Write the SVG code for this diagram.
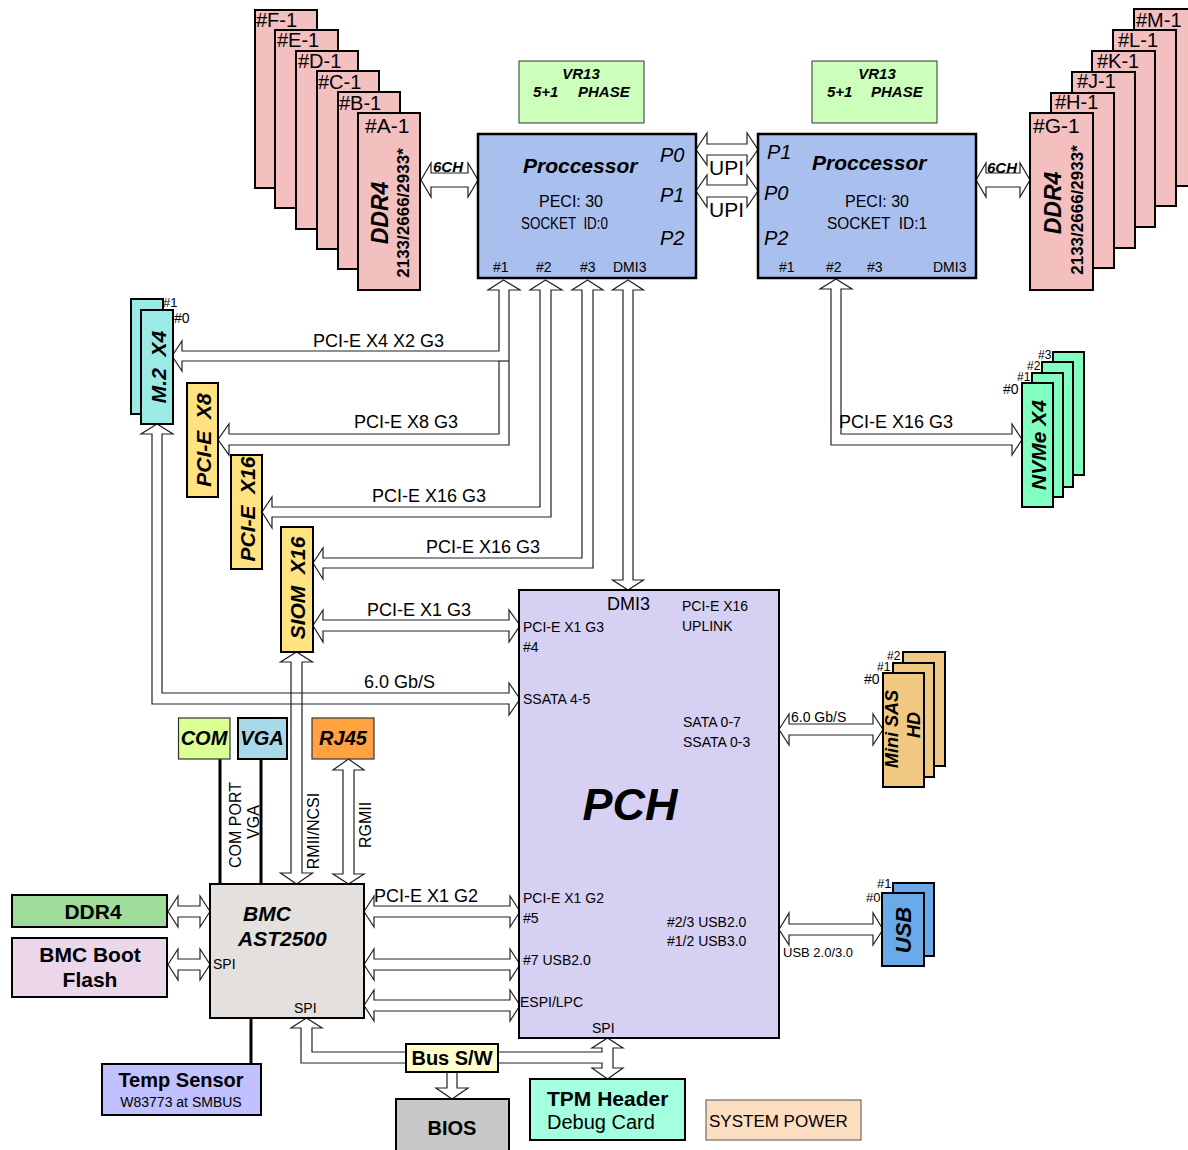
<svg xmlns="http://www.w3.org/2000/svg" width="1188" height="1150" viewBox="0 0 1188 1150">
<style>
text{font-family:"Liberation Sans",Arial,sans-serif;fill:#000}
.box{stroke:#000;stroke-width:2}
.dimm{fill:#F4BFBF;stroke:#000;stroke-width:2}
.cpu{fill:#A9BFEE;stroke:#000;stroke-width:2.5}
.vr{fill:#CCFFBB;stroke:#333;stroke-width:1}
.arr{fill:none;stroke:#222;stroke-width:1.2;stroke-linejoin:miter}
.wire{stroke:#000;stroke-width:3}
.bi{font-weight:bold;font-style:italic}
.b{font-weight:bold}
.i{font-style:italic}
.rot{text-anchor:middle;dominant-baseline:central}
.m{text-anchor:middle}
</style>
<rect width="1188" height="1150" fill="#fff"/>

<g id="connectors">
<polygon class="arr" points="696,149.5 707,133 707,144 747,144 747,133 758,149.5 747,165 747,155 707,155 707,165"/>
<polygon class="arr" points="696,191 707,175 707,185 747,185 747,175 758,191 747,207 747,197 707,197 707,207"/>
<polygon class="arr" points="421,180 431,163 431,173 468,173 468,163 478,180 468,197 468,187 431,187 431,197"/>
<polygon class="arr" points="976,180 986,163 986,173 1020,173 1020,163 1030,180 1020,197 1020,187 986,187 986,197"/>
<polygon class="arr" points="503.5,280 488,290 499,290 499,351 182,351 182,341 172,356 182,371 182,361 499,361 499,434 229,434 229,424 218,439.5 229,455 229,445 509,445 509,290 520,290"/>
<line class="arr" x1="499" y1="361" x2="509" y2="361"/>
<polygon class="arr" points="545.5,280 530,290 540,290 540,507 272,507 272,497 262,512 272,528 272,517 551,517 551,290 562,290"/>
<polygon class="arr" points="587.5,280 572,290 582,290 582,558 323,558 323,548 313,563 323,579 323,568 593,568 593,290 603,290"/>
<polygon class="arr" points="628,280 612.5,290 623,290 623,580 612.5,580 628,590 643.5,580 633,580 633,290 643.5,290"/>
<polygon class="arr" points="836,279 820,289 831,289 831,445 1012,445 1012,455 1022,439.5 1012,424 1012,434 841,434 841,289 852,289"/>
<polygon class="arr" points="313,625.5 323,610 323,620 509,620 509,610 520,625.5 509,642 509,631 323,631 323,642"/>
<polygon class="arr" points="157,424 141,434 152,434 152,704 509,704 509,715 520,699 509,683 509,693 162,693 162,434 173,434"/>
<polygon class="arr" points="296.5,652 280.5,662 291,662 291,873 280.5,873 296.5,884 312.5,873 302,873 302,662 312.5,662"/>
<polygon class="arr" points="348.5,759 333,770 343,770 343,874 333,874 348.5,884 364,874 354,874 354,770 364,770"/>
<line class="wire" x1="220" y1="759" x2="220" y2="884"/>
<line class="wire" x1="261" y1="759" x2="261" y2="884"/>
<polygon class="arr" points="168,911.5 178,896 178,906 200,906 200,896 210,911.5 200,927 200,917 178,917 178,927"/>
<polygon class="arr" points="168,964.5 178,949 178,959 200,959 200,949 210,964.5 200,980 200,970 178,970 178,980"/>
<polygon class="arr" points="364,911.5 374,896 374,906 510,906 510,896 520,911.5 510,927 510,917 374,917 374,927"/>
<polygon class="arr" points="364,964.5 374,949 374,959 510,959 510,949 520,964.5 510,980 510,970 374,970 374,980"/>
<polygon class="arr" points="364,1005.5 374,990 374,1000 510,1000 510,990 520,1005.5 510,1021 510,1011 374,1011 374,1021"/>
<polygon class="arr" points="779,729.5 789,714 789,724 873,724 873,714 883,729.5 873,745 873,735 789,735 789,745"/>
<polygon class="arr" points="779,929.5 789,913 789,924 873,924 873,913 883,929.5 873,945 873,935 789,935 789,945"/>
<polygon class="arr" points="306.5,1018 291,1028 301,1028 301,1063 406,1063 406,1052 312,1052 312,1028 322,1028"/>
<polygon class="arr" points="498,1052 602,1052 602,1048 592,1048 607.5,1038 623,1048 613,1048 613,1068 623,1068 607.5,1079 592,1068 602,1068 602,1063 498,1063"/>
<polygon class="arr" points="447,1072 447,1088 436,1088 452,1099 468,1088 457,1088 457,1072"/>
<line class="wire" x1="251" y1="1018" x2="251" y2="1064"/>
<text x="709" y="175" font-size="21">UPI</text>
<text x="709" y="217" font-size="21">UPI</text>
<text x="433" y="172" font-size="15" class="bi">6CH</text>
<text x="987" y="173" font-size="15" class="bi">6CH</text>
<text x="313" y="347" font-size="18">PCI-E X4 X2 G3</text>
<text x="354" y="428" font-size="18">PCI-E X8 G3</text>
<text x="372" y="502" font-size="18">PCI-E X16 G3</text>
<text x="426" y="553" font-size="18">PCI-E X16 G3</text>
<text x="839" y="428" font-size="18">PCI-E X16 G3</text>
<text x="367" y="616" font-size="18">PCI-E X1 G3</text>
<text x="364" y="688" font-size="18">6.0 Gb/S</text>
<text x="791" y="722" font-size="14">6.0 Gb/S</text>
<text x="783" y="957" font-size="13">USB 2.0/3.0</text>
<text x="374" y="902" font-size="18">PCI-E X1 G2</text>
<text class="rot" font-size="16" transform="rotate(-90 235 825)" x="235" y="825">COM PORT</text>
<text class="rot" font-size="16" transform="rotate(-90 253 822)" x="253" y="822">VGA</text>
<text class="rot" font-size="16" transform="rotate(-90 313 831)" x="313" y="831">RMII/NCSI</text>
<text class="rot" font-size="16" transform="rotate(-90 365 825)" x="365" y="825">RGMII</text>
</g>

<g id="dimm-left">
<rect class="dimm" x="255" y="10" width="62" height="178"/><text x="256" y="27" font-size="20">#F-1</text>
<rect class="dimm" x="275" y="30" width="63" height="178"/><text x="277" y="47" font-size="20">#E-1</text>
<rect class="dimm" x="296" y="51" width="62" height="178"/><text x="298" y="68" font-size="20">#D-1</text>
<rect class="dimm" x="317" y="71" width="62" height="178"/><text x="318" y="89" font-size="20">#C-1</text>
<rect class="dimm" x="338" y="92" width="62" height="177"/><text x="339" y="110" font-size="20">#B-1</text>
<rect class="dimm" x="358" y="113" width="62" height="177"/><text x="365" y="133" font-size="21">#A-1</text>
<text class="rot bi" font-size="23" transform="rotate(-90 380 213)" x="380" y="213">DDR4</text>
<text class="rot b" font-size="17" transform="rotate(-90 403 213)" x="403" y="213">2133/2666/2933*</text>
</g>

<g id="dimm-right">
<rect class="dimm" x="1134" y="9" width="62" height="177"/><text x="1136" y="27" font-size="20">#M-1</text>
<rect class="dimm" x="1113" y="30" width="63" height="176"/><text x="1118" y="47" font-size="20">#L-1</text>
<rect class="dimm" x="1092" y="51" width="63" height="176"/><text x="1097" y="68" font-size="20">#K-1</text>
<rect class="dimm" x="1072" y="72" width="63" height="176"/><text x="1077" y="88" font-size="20">#J-1</text>
<rect class="dimm" x="1051" y="93" width="63" height="175"/><text x="1055" y="109" font-size="20">#H-1</text>
<rect class="dimm" x="1030" y="113" width="63" height="177"/><text x="1033" y="133" font-size="21">#G-1</text>
<text class="rot bi" font-size="23" transform="rotate(-90 1053 203)" x="1053" y="203">DDR4</text>
<text class="rot b" font-size="17" transform="rotate(-90 1077 210)" x="1077" y="210">2133/2666/2933*</text>
</g>

<g id="vr13-left">
<rect class="vr" x="519" y="61" width="125" height="62"/>
<text x="581" y="79" font-size="15" class="bi m">VR13</text>
<text x="533" y="97" font-size="15" class="bi">5+1</text>
<text x="578" y="97" font-size="15" class="bi">PHASE</text>
</g>
<g id="vr13-right">
<rect class="vr" x="812" y="61" width="125" height="62"/>
<text x="877" y="79" font-size="15" class="bi m">VR13</text>
<text x="827" y="97" font-size="15" class="bi">5+1</text>
<text x="871" y="97" font-size="15" class="bi">PHASE</text>
</g>

<g id="cpu0">
<rect class="cpu" x="478" y="134" width="218" height="144"/>
<text x="523" y="173" font-size="21" class="bi">Proccessor</text>
<text x="571" y="207" font-size="16" class="m">PECI: 30</text>
<text x="521" y="229" font-size="16" textLength="87" lengthAdjust="spacingAndGlyphs" xml:space="preserve">SOCKET  ID:0</text>
<text x="660" y="162" font-size="20" class="i">P0</text>
<text x="660" y="202" font-size="20" class="i">P1</text>
<text x="660" y="245" font-size="20" class="i">P2</text>
<text x="493" y="272" font-size="14">#1</text>
<text x="536" y="272" font-size="14">#2</text>
<text x="580" y="272" font-size="14">#3</text>
<text x="613" y="272" font-size="14">DMI3</text>
</g>

<g id="cpu1">
<rect class="cpu" x="758" y="134" width="218" height="144"/>
<text x="812" y="170" font-size="21" class="bi">Proccessor</text>
<text x="877" y="207" font-size="16" class="m">PECI: 30</text>
<text x="827" y="229" font-size="16" textLength="100" lengthAdjust="spacingAndGlyphs" xml:space="preserve">SOCKET  ID:1</text>
<text x="767" y="159" font-size="20" class="i">P1</text>
<text x="764" y="200" font-size="20" class="i">P0</text>
<text x="764" y="245" font-size="20" class="i">P2</text>
<text x="779" y="272" font-size="14">#1</text>
<text x="826" y="272" font-size="14">#2</text>
<text x="867" y="272" font-size="14">#3</text>
<text x="933" y="272" font-size="14">DMI3</text>
</g>

<g id="m2">
<rect class="box" x="131" y="299" width="32" height="115" fill="#9AEBE5"/>
<rect class="box" x="141" y="310" width="32" height="114" fill="#9AEBE5"/>
<text x="163" y="307" font-size="13">#1</text>
<text x="174" y="323" font-size="14">#0</text>
<text class="rot bi" font-size="21" transform="rotate(-90 158 367)" x="158" y="367" xml:space="preserve">M.2  X4</text>
</g>

<g id="pcie-x8">
<rect class="box" x="187" y="383" width="31" height="114" fill="#FFE380"/>
<text class="rot bi" font-size="21" transform="rotate(-90 203 440)" x="203" y="440" xml:space="preserve">PCI-E  X8</text>
</g>
<g id="pcie-x16">
<rect class="box" x="231" y="455" width="31" height="114" fill="#FFE380"/>
<text class="rot bi" font-size="21" transform="rotate(-90 247 509)" x="247" y="509" xml:space="preserve">PCI-E  X16</text>
</g>
<g id="siom">
<rect class="box" x="281" y="527" width="32" height="125" fill="#FFE380"/>
<text class="rot bi" font-size="21" transform="rotate(-90 297 588)" x="297" y="588" xml:space="preserve">SIOM  X16</text>
</g>

<g id="nvme">
<rect class="box" x="1053" y="352" width="31" height="123" fill="#80FFC0"/>
<rect class="box" x="1042" y="362" width="31" height="125" fill="#80FFC0"/>
<rect class="box" x="1032" y="373" width="31" height="124" fill="#80FFC0"/>
<rect class="box" x="1022" y="383" width="31" height="124" fill="#80FFC0"/>
<text x="1038" y="359" font-size="12">#3</text>
<text x="1027" y="370" font-size="12">#2</text>
<text x="1017" y="381" font-size="12">#1</text>
<text x="1003" y="394" font-size="14">#0</text>
<text class="rot bi" font-size="21" transform="rotate(-90 1038 445)" x="1038" y="445">NVMe X4</text>
</g>

<g id="pch">
<rect class="box" x="519" y="590" width="260" height="448" fill="#D6D0F2"/>
<text x="607" y="610" font-size="18">DMI3</text>
<text x="682" y="611" font-size="14">PCI-E X16</text>
<text x="682" y="631" font-size="14">UPLINK</text>
<text x="523" y="632" font-size="14">PCI-E X1 G3</text>
<text x="523" y="652" font-size="14">#4</text>
<text x="523" y="704" font-size="14">SSATA 4-5</text>
<text x="683" y="727" font-size="14">SATA 0-7</text>
<text x="683" y="747" font-size="14">SSATA 0-3</text>
<text x="630" y="820" font-size="45" class="bi m">PCH</text>
<text x="523" y="903" font-size="14">PCI-E X1 G2</text>
<text x="523" y="923" font-size="14">#5</text>
<text x="667" y="927" font-size="14">#2/3 USB2.0</text>
<text x="667" y="946" font-size="14">#1/2 USB3.0</text>
<text x="523" y="965" font-size="14">#7 USB2.0</text>
<text x="520" y="1007" font-size="14">ESPI/LPC</text>
<text x="592" y="1033" font-size="14">SPI</text>
</g>

<g id="minisas">
<rect class="box" x="903" y="652" width="42" height="114" fill="#F0C882"/>
<rect class="box" x="893" y="663" width="41" height="114" fill="#F0C882"/>
<rect class="box" x="883" y="673" width="41" height="114" fill="#F0C882"/>
<text x="887" y="660" font-size="12">#2</text>
<text x="877" y="671" font-size="12">#1</text>
<text x="864" y="684" font-size="14">#0</text>
<text class="rot bi" font-size="18" transform="rotate(-90 892 729)" x="892" y="729">Mini SAS</text>
<text class="rot bi" font-size="18" transform="rotate(-90 914 725)" x="914" y="725">HD</text>
</g>

<g id="usb">
<rect class="box" x="893" y="883" width="41" height="73" fill="#6BAAE8"/>
<rect class="box" x="882" y="893" width="42" height="73" fill="#6BAAE8"/>
<text x="877" y="888" font-size="13">#1</text>
<text x="866" y="902" font-size="13">#0</text>
<text class="rot bi" font-size="22" transform="rotate(-90 903 930)" x="903" y="930">USB</text>
</g>

<g id="com">
<rect x="178.5" y="718" width="51.5" height="41" fill="#D9FF95" stroke="#333" stroke-width="1.2"/>
<text x="204" y="745" font-size="20" class="bi m">COM</text>
</g>
<g id="vga">
<rect class="box" x="238" y="718" width="49" height="41" fill="#A9D8E9"/>
<text x="262" y="745" font-size="20" class="bi m">VGA</text>
</g>
<g id="rj45">
<rect x="312" y="718" width="62" height="41" fill="#FFA23F" stroke="#333" stroke-width="1.2"/>
<text x="343" y="745" font-size="20" class="bi m">RJ45</text>
</g>

<g id="bmc">
<rect class="box" x="210" y="884" width="154" height="134" fill="#E3E0DD"/>
<text x="243" y="921" font-size="21" class="bi">BMC</text>
<text x="238" y="946" font-size="21" class="bi">AST2500</text>
<text x="213" y="969" font-size="14">SPI</text>
<text x="294" y="1013" font-size="14">SPI</text>
</g>

<g id="ddr4-bmc">
<rect class="box" x="12" y="895" width="155" height="32" fill="#9FDC9A"/>
<text x="93" y="919" font-size="21" class="b m">DDR4</text>
</g>
<g id="boot-flash">
<rect class="box" x="12" y="938" width="155" height="59" fill="#ECD7EA"/>
<text x="90" y="962" font-size="21" class="b m">BMC Boot</text>
<text x="90" y="987" font-size="21" class="b m">Flash</text>
</g>

<g id="temp-sensor">
<rect class="box" x="102" y="1064" width="159" height="51" fill="#C1C1FF"/>
<text x="181" y="1087" font-size="20" class="b m">Temp Sensor</text>
<text x="181" y="1107" font-size="14" class="m">W83773 at SMBUS</text>
</g>

<g id="bus-sw">
<rect class="box" x="406" y="1044" width="92" height="28" fill="#FFFFCC"/>
<text x="452" y="1065" font-size="20" class="b m">Bus S/W</text>
</g>

<g id="bios">
<rect class="box" x="396" y="1099" width="113" height="56" fill="#C8C8C8"/>
<text x="452" y="1135" font-size="20" class="b m">BIOS</text>
</g>

<g id="tpm">
<rect class="box" x="530" y="1079" width="155" height="61" fill="#A3FFE0"/>
<text x="547" y="1106" font-size="21" class="b">TPM Header</text>
<text x="547" y="1129" font-size="20">Debug Card</text>
</g>

<g id="system-power">
<rect x="706" y="1100" width="155" height="40" fill="#FDDDBF" stroke="#555" stroke-width="1"/>
<text x="709" y="1127" font-size="17">SYSTEM POWER</text>
</g>
</svg>
